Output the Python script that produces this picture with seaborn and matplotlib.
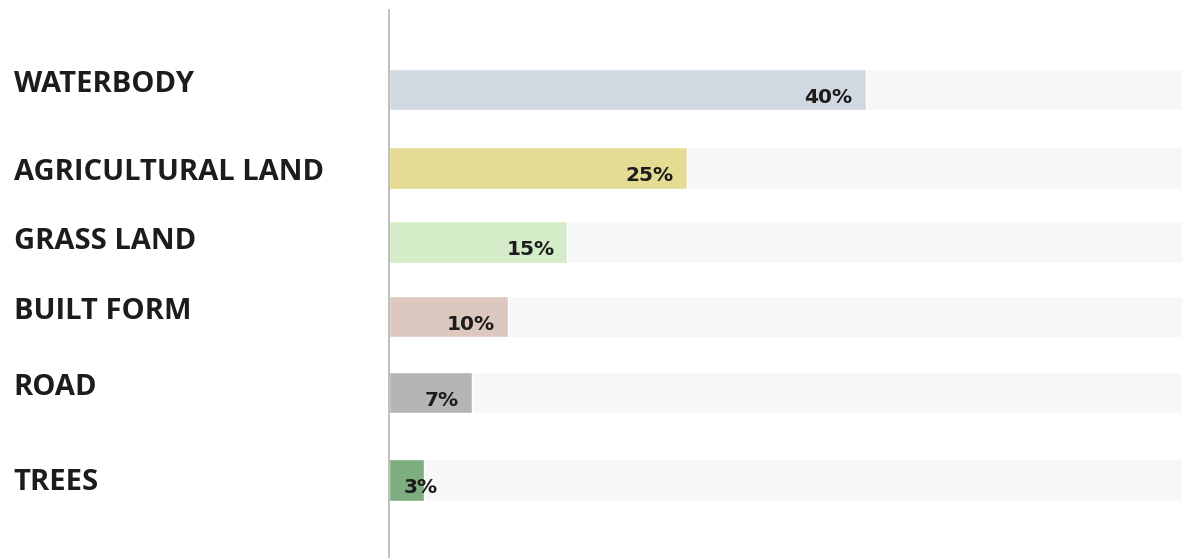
import matplotlib
matplotlib.use("Agg")
import matplotlib.pyplot as plt
import seaborn as sns
import pandas as pd

# Land-use shares
categories = ["WATERBODY", "AGRICULTURAL LAND", "GRASS LAND", "BUILT FORM", "ROAD", "TREES"]
shares = [40, 25, 15, 10, 7, 3]
bar_colors = ["#d0d9e1", "#e5dc93", "#d5ecc8", "#dcc8bf", "#b5b5b5", "#7cae80"]

# row layout (vertical centre of each bar and of its name)
row_pos = [0.0, 1.005, 1.953, 2.907, 3.88, 5.0]
name_pos = [-0.11, 1.015, 1.90, 2.80, 3.77, 4.985]

sns.set_theme(style="white")
plt.rcParams["font.family"] = ["Open Sans", "DejaVu Sans"]

X_MAX = 66.5
df = pd.DataFrame({"category": categories, "share": shares, "row": row_pos})
df["track"] = X_MAX

fig = plt.figure(figsize=(11.82, 5.58), dpi=100)
ax = fig.add_axes([388.5 / 1182, 0.0, 1 - 388.5 / 1182, 1 - 10 / 558])

# light background tracks spanning the full width
sns.barplot(data=df, x="track", y="row", orient="h", color="#f7f7f7",
            native_scale=True, width=0.56, ax=ax, saturation=1)
# coloured share bars
sns.barplot(data=df, x="share", y="row", hue="category", orient="h",
            native_scale=True, palette=bar_colors, width=0.56, ax=ax,
            saturation=1, legend=False)

# percentage labels near the bar ends, kept clear of the axis line
for y, v in zip(row_pos, shares):
    ax.text(max(v - 1.1, 4.1), y + 0.1, f"{v}%", ha="right", va="center",
            fontsize=14.5, fontweight="bold", color="#1c1c1c",
            family=["DejaVu Sans"])

ax.set_xlim(0, X_MAX)
ax.set_ylim(5.999, -1.018)
ax.set_xlabel("")
ax.set_ylabel("")
ax.set_xticks([])
ax.set_yticks(name_pos, categories)

ax.tick_params(axis="y", length=0, pad=270)
for lab in ax.get_yticklabels():
    lab.set_ha("left")
    lab.set_fontsize(21)
    lab.set_fontweight("bold")
    lab.set_color("#1c1c1c")

for side in ["top", "right", "bottom"]:
    ax.spines[side].set_visible(False)
ax.spines["left"].set_color("#b3b3b3")
ax.spines["left"].set_linewidth(1.2)

fig.savefig("out.png", dpi=100, facecolor="white")
